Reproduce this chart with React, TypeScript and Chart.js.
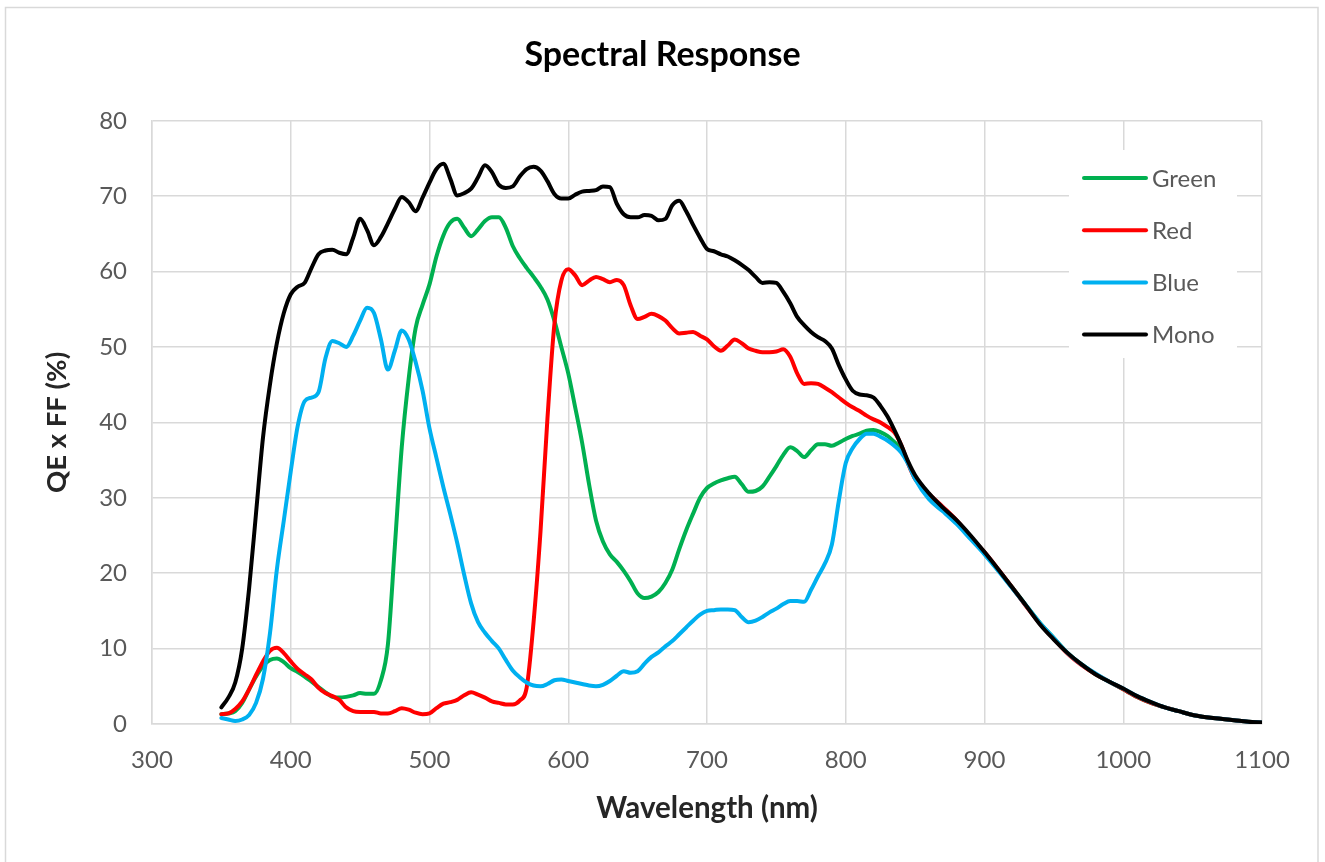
import React, { useEffect, useRef } from 'react';
import { Chart, registerables } from 'chart.js';

Chart.register(...registerables);

// Wavelength samples (nm)
const wavelengths = [
  350, 355, 360, 365, 370, 375, 380, 385, 390, 395,
  400, 405, 410, 415, 420, 425, 430, 435, 440, 445,
  450, 455, 460, 465, 470, 475, 480, 485, 490, 495,
  500, 505, 510, 515, 520, 525, 530, 535, 540, 545,
  550, 555, 560, 565, 570, 575, 580, 585, 590, 595,
  600, 605, 610, 615, 620, 625, 630, 635, 640, 645,
  650, 655, 660, 665, 670, 675, 680, 685, 690, 695,
  700, 705, 710, 715, 720, 725, 730, 735, 740, 745,
  750, 755, 760, 765, 770, 775, 780, 785, 790, 795,
  800, 805, 810, 815, 820, 825, 830, 835, 840, 845,
  850,
  860, 870, 880, 890, 900, 910, 920, 930, 940, 950,
  960, 970, 980, 990, 1000, 1010, 1020, 1030, 1040, 1050,
  1060, 1070, 1080, 1090, 1100,
];

const green = [
  1.3, 1.4, 1.7, 2.8, 4.6, 6.3, 7.7, 8.5, 8.7, 8.2,
  7.4, 6.9, 6.3, 5.6, 4.9, 4.2, 3.6, 3.5, 3.6, 3.8,
  4.1, 4.0, 4.0, 5.8, 10.5, 23.5, 36.7, 45.8, 52.5, 55.6,
  58.3, 62, 64.8, 66.5, 67, 65.8, 64.7, 65.6, 66.7, 67.2,
  67.2, 65.8, 63.4, 61.8, 60.5, 59.3, 58, 56.3, 53.5, 50,
  46.5, 42, 37.3, 31.8, 27, 24.2, 22.5, 21.5, 20.3, 18.9,
  17.3, 16.7, 16.9, 17.5, 18.7, 20.5, 23.2, 25.7, 27.9, 30,
  31.3, 31.9, 32.3, 32.6, 32.8, 31.8, 30.8, 30.9, 31.5, 32.8,
  34.2, 35.7, 36.7, 36.2, 35.4, 36.3, 37.1, 37.1, 36.9, 37.3,
  37.8, 38.2, 38.5, 38.9, 39, 38.7, 38.2, 37.4, 36.5, 34.6,
  32.7,
  30.3, 28.6, 26.8, 24.7, 22.6, 20.4, 18.1, 15.7, 13.4, 11.4,
  9.4, 7.9, 6.6, 5.6, 4.6, 3.6, 2.8, 2.2, 1.7, 1.2,
  0.9, 0.7, 0.5, 0.3, 0.2,
];

const red = [
  1.3, 1.4, 2, 3, 4.6, 6.5, 8.3, 9.7, 10.1, 9.4,
  8.3, 7.3, 6.6, 5.9, 4.8, 4.1, 3.7, 3.2, 2.2, 1.7,
  1.6, 1.6, 1.6, 1.4, 1.4, 1.7, 2.1, 1.9, 1.5, 1.3,
  1.4, 2.1, 2.7, 2.9, 3.2, 3.8, 4.2, 3.9, 3.5, 3.0,
  2.8, 2.6, 2.6, 3.1, 4.8, 13.5, 25.5, 40.5, 53, 58.8,
  60.3, 59.5, 58.2, 58.8, 59.3, 59, 58.6, 58.9, 58.2, 55.5,
  53.7, 54, 54.4, 54.1, 53.5, 52.5, 51.8, 51.9, 52, 51.5,
  51, 50.1, 49.5, 50.2, 51, 50.5, 49.8, 49.5, 49.3, 49.3,
  49.4, 49.7, 48.7, 46.5, 45.1, 45.2, 45.1, 44.6, 44, 43.3,
  42.6, 42, 41.5, 40.9, 40.4, 40, 39.4, 38.7, 37, 34.5,
  32.5,
  30.5, 28.8, 27.0, 24.8, 22.8, 20.5, 18.1, 15.6, 13.3, 11.3,
  9.3, 7.8, 6.6, 5.6, 4.6, 3.6, 2.8, 2.2, 1.7, 1.2,
  0.9, 0.7, 0.5, 0.3, 0.2,
];

const blue = [
  0.8, 0.6, 0.4, 0.6, 1.2, 2.8, 6, 12, 20.5, 27,
  33.5, 39.5, 42.8, 43.3, 44, 48.5, 50.8, 50.5, 50, 51.5,
  53.5, 55.2, 54.5, 51, 47, 49.5, 52.2, 51, 48, 44.2,
  39.2, 35.3, 31.4, 27.8, 24, 19.8, 16, 13.5, 12.1, 11,
  10, 8.5, 7.1, 6.2, 5.5, 5.1, 5, 5.3, 5.8, 5.9,
  5.7, 5.5, 5.3, 5.1, 5, 5.2, 5.7, 6.4, 7, 6.8,
  7, 8, 8.9, 9.5, 10.3, 11, 11.9, 12.8, 13.7, 14.5,
  15, 15.1, 15.2, 15.2, 15.1, 14.2, 13.5, 13.7, 14.2, 14.8,
  15.3, 15.9, 16.3, 16.3, 16.2, 17.8, 19.6, 21.3, 23.8, 29.6,
  34.6, 36.6, 37.8, 38.5, 38.5, 38.1, 37.6, 36.9, 36, 34.5,
  32.5,
  29.8, 28.2, 26.5, 24.5, 22.5, 20.3, 18.0, 15.7, 13.4, 11.4,
  9.4, 7.9, 6.7, 5.6, 4.7, 3.7, 2.9, 2.2, 1.7, 1.2,
  0.9, 0.7, 0.5, 0.3, 0.2,
];

const mono = [
  2.2, 3.5, 5.5, 10, 18, 28, 38, 45, 50.5, 54.5,
  57, 58, 58.5, 60.5, 62.3, 62.8, 62.9, 62.5, 62.3, 64.5,
  67, 65.5, 63.5, 64.6, 66.4, 68.3, 69.9, 69.2, 68, 69.8,
  71.8, 73.6, 74.3, 72.3, 70.1, 70.4, 71, 72.5, 74.1, 73.2,
  71.5, 71.1, 71.3, 72.6, 73.6, 73.9, 73.4, 72, 70.3, 69.7,
  69.7, 70.2, 70.6, 70.7, 70.8, 71.3, 71.2, 69, 67.6, 67.2,
  67.2, 67.5, 67.4, 66.8, 67, 68.8, 69.4, 68, 66.2, 64.5,
  63, 62.7, 62.3, 62, 61.5, 60.9, 60.2, 59.3, 58.5, 58.6,
  58.5, 57.3, 55.8, 54, 52.9, 52, 51.3, 50.8, 49.8, 47.6,
  45.7, 44.2, 43.7, 43.6, 43.3, 42.2, 40.8, 39, 37, 34.8,
  33,
  30.6, 28.7, 27.0, 25.0, 22.8, 20.5, 18.1, 15.7, 13.2, 11.2,
  9.4, 7.9, 6.6, 5.6, 4.7, 3.7, 2.9, 2.2, 1.7, 1.2,
  0.9, 0.7, 0.5, 0.3, 0.2,
];

const seriesNames = ['Green', 'Red', 'Blue', 'Mono'];
const seriesValues = [green, red, blue, mono];
const seriesColors = ['#00B050', '#FF0000', '#00B0F0', '#000000'];
const drawOrder = [4, 3, 2, 1];

const chartTitle = 'Spectral Response';
const xTitle = 'Wavelength (nm)';
const yTitle = 'QE x FF (%)';

const frameAndLegend = {
  id: 'frameAndLegend',
  beforeDraw(chart: any) {
    const ctx = chart.ctx;
    ctx.save();
    ctx.fillStyle = '#ffffff';
    ctx.fillRect(0, 0, chart.width, chart.height);
    ctx.strokeStyle = '#d9d9d9';
    ctx.lineWidth = 1.5;
    ctx.strokeRect(5.5, 7.5, 1312.5, 900);
    ctx.restore();
  },
  beforeDatasetsDraw(chart: any) {
    const ctx = chart.ctx;
    ctx.save();
    ctx.fillStyle = '#ffffff';
    ctx.fillRect(1069, 150, 168, 208);
    ctx.font = '24px Lato';
    ctx.textBaseline = 'middle';
    ctx.textAlign = 'left';
    chart.data.datasets.forEach((ds: any, i: number) => {
      const y = 178 + i * 52.2;
      ctx.strokeStyle = ds.borderColor;
      ctx.lineWidth = 4;
      ctx.lineCap = 'round';
      ctx.beginPath();
      ctx.moveTo(1084, y);
      ctx.lineTo(1146, y);
      ctx.stroke();
      ctx.fillStyle = '#595959';
      ctx.fillText(ds.label, 1152, y + 1);
    });
    ctx.restore();
  },
};

export default function App() {
  const canvasRef = useRef<HTMLCanvasElement | null>(null);

  useEffect(() => {
    document.body.style.margin = '0';
    const canvas = canvasRef.current;
    if (!canvas) return;
    const chart = new Chart(canvas, {
      type: 'line',
      data: {
        datasets: seriesNames.map((name, si) => ({
          label: name,
          data: wavelengths.map((w, i) => ({ x: w, y: seriesValues[si][i] })),
          borderColor: seriesColors[si],
          backgroundColor: seriesColors[si],
          borderWidth: 4,
          pointRadius: 0,
          pointHoverRadius: 0,
          cubicInterpolationMode: 'monotone' as const,
          borderCapStyle: 'round' as const,
          borderJoinStyle: 'round' as const,
          fill: false,
          order: drawOrder[si],
        })),
      },
      options: {
        responsive: false,
        animation: false,
        devicePixelRatio: 1,
        layout: { padding: 0 },
        plugins: {
          legend: { display: false },
          tooltip: { enabled: false },
          title: {
            display: true,
            text: chartTitle,
            color: '#000000',
            font: { family: 'Lato', size: 34, weight: 'bold' },
            padding: { top: 35, bottom: 45 },
          },
        },
        scales: {
          x: {
            type: 'linear',
            min: 300,
            max: 1100,
            ticks: {
              stepSize: 100,
              color: '#595959',
              font: { family: 'Lato', size: 24 },
              padding: 22,
              maxRotation: 0,
              callback: (v: any) => String(v),
            },
            grid: { color: '#d9d9d9', lineWidth: 1.5, drawTicks: false },
            border: { color: '#d9d9d9', width: 1.5 },
            title: {
              display: true,
              text: xTitle,
              color: '#262626',
              font: { family: 'Lato', size: 29.5, weight: 'bold' },
              padding: { top: 0, bottom: 36 },
            },
            afterFit: (scale: any) => { scale.height = 138; },
          },
          y: {
            type: 'linear',
            position: 'left',
            min: 0,
            max: 80,
            ticks: {
              stepSize: 10,
              color: '#595959',
              font: { family: 'Lato', size: 24 },
              padding: 25,
            },
            grid: { color: '#d9d9d9', lineWidth: 1.5, drawTicks: false },
            border: { color: '#d9d9d9', width: 1.5 },
            title: {
              display: true,
              text: yTitle,
              color: '#262626',
              font: { family: 'Lato', size: 27.5, weight: 'bold' },
              padding: { top: 41, bottom: 41 },
            },
            afterFit: (scale: any) => { scale.width = 152; },
          },
          yRightSpace: {
            type: 'linear',
            position: 'right',
            display: true,
            min: 0,
            max: 80,
            ticks: { display: false },
            grid: { display: false, drawTicks: false },
            border: { display: false },
            afterFit: (scale: any) => { scale.width = 63; },
          },
        },
      },
      plugins: [frameAndLegend],
    });
    return () => chart.destroy();
  }, []);

  return (
    <div style={{ position: 'fixed', left: 0, top: 0, width: 1325, height: 862, background: '#fff' }}>
      <canvas ref={canvasRef} width={1325} height={862} style={{ display: 'block' }} />
    </div>
  );
}
